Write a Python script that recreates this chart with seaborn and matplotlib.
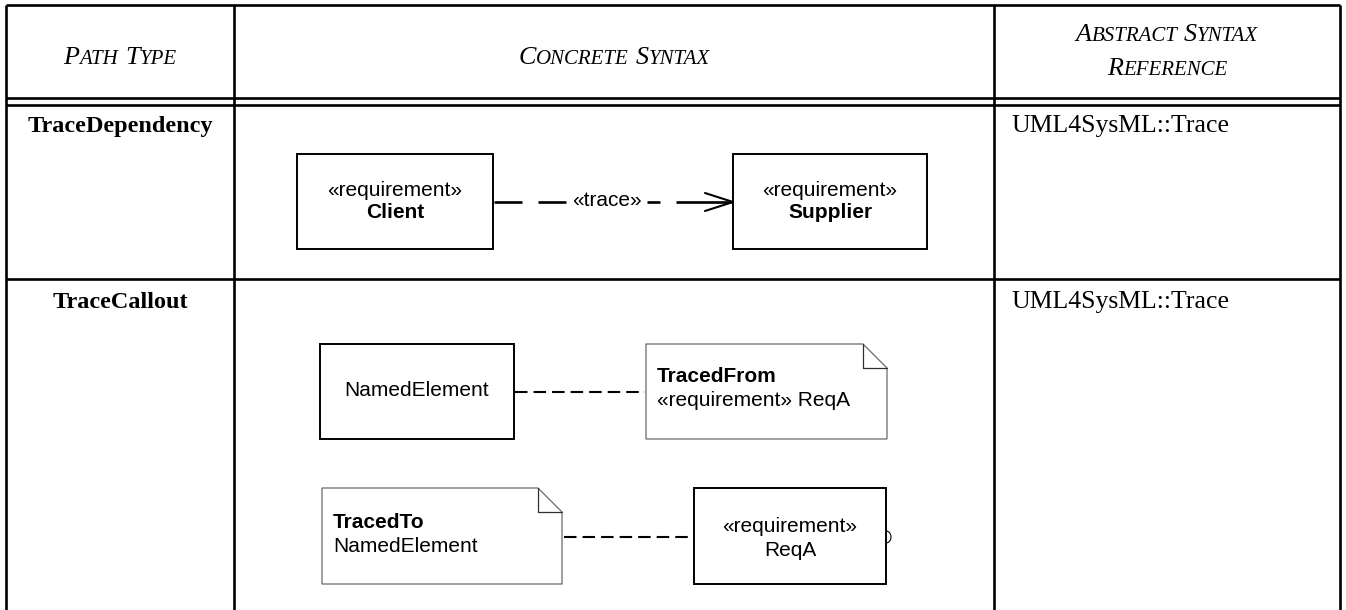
import numpy as np
import matplotlib.pyplot as plt
import matplotlib.patches as mpatches
import seaborn as sns

sns.set_theme(style="white")
plt.rcParams['font.family'] = ['Liberation Sans', 'DejaVu Sans']
plt.rcParams['text.color'] = 'black'

# table text
headers = ["Path Type", "Concrete Syntax", "Abstract Syntax\nReference"]
path_types = ["TraceDependency", "TraceCallout"]
references = ["UML4SysML::Trace", "UML4SysML::Trace"]

# diagram text
stereo = "«requirement»"
dep_client = "Client"
dep_supplier = "Supplier"
dep_label = "«trace»"
element_name = "NamedElement"
req_name = "ReqA"
traced_from = ["TracedFrom", "«requirement» ReqA"]
traced_to = ["TracedTo", "NamedElement"]

W, H = 1346, 610
fig = plt.figure(figsize=(W / 100, H / 100), dpi=100)
ax = fig.add_axes([0, 0, 1, 1])
ax.set_xlim(0, W)
ax.set_ylim(H, 0)
ax.axis('off')
renderer = fig.canvas.get_renderer()

SERIF = 'Liberation Serif'
SANS = 'Liberation Sans'

# table grid
xl, xc1, xc2, xr = 6, 234, 994, 1340
ytop = 5
tlw = 1.9
for x in [xl, xc1, xc2, xr]:
    ax.plot([x, x], [ytop, H + 5], color='black', lw=tlw, solid_capstyle='butt')
for y in [ytop, 98, 105, 279]:
    ax.plot([xl, xr], [y, y], color='black', lw=tlw, solid_capstyle='butt')


def small_caps(cx, y, text, size, ratio=0.8):
    # fake small caps: first letter big, rest smaller capitals
    pieces = []
    for i, word in enumerate(text.split()):
        if i:
            pieces.append(("gap", None))
        pieces.append((word[0].upper(), size))
        if len(word) > 1:
            pieces.append((word[1:].upper(), size * ratio))
    items = []
    for s, fs in pieces:
        if s == "gap":
            items.append((None, size * 0.35))
            continue
        t = ax.text(0, y, s, fontsize=fs, family=SERIF, style='italic',
                    va='baseline', ha='left', color='black')
        w = t.get_window_extent(renderer).width
        items.append((t, w))
    total = sum(w for _, w in items)
    x = cx - total / 2
    for t, w in items:
        if t is not None:
            t.set_x(x)
        x += w


col_centers = [(xl + xc1) / 2, (xc1 + xc2) / 2, (xc2 + xr) / 2]
hsize = 18.8
for cx, h in zip(col_centers, headers):
    lines = h.split("\n")
    if len(lines) == 1:
        small_caps(cx, 64, lines[0], hsize)
    else:
        small_caps(cx, 41, lines[0], hsize)
        small_caps(cx, 75, lines[1], hsize)

# row labels and references
row_y = [132, 308]
for y, name, ref in zip(row_y, path_types, references):
    ax.text(col_centers[0], y, name, family=SERIF, fontweight='bold',
            fontsize=17.5, ha='center', va='baseline')
    ax.text(1011, y, ref, family=SERIF, fontsize=18.5, ha='left',
            va='baseline')

fs = 15


def box(x0, y0, x1, y1, lw=1.4):
    ax.add_patch(mpatches.Rectangle((x0, y0), x1 - x0, y1 - y0, fill=False,
                                    edgecolor='black', lw=lw))


def note(x0, y0, x1, y1, fold=24):
    pts = [(x0, y0), (x1 - fold, y0), (x1, y0 + fold), (x1, y1), (x0, y1)]
    ax.add_patch(mpatches.Polygon(pts, closed=True, fill=False,
                                  edgecolor='#6a6a6a', lw=0.9))
    ax.plot([x1 - fold, x1 - fold, x1], [y0, y0 + fold, y0 + fold],
            color='#303030', lw=0.9)


# TraceDependency diagram
box(297, 154, 493, 249)
ax.text(395, 190, stereo, fontsize=fs, ha='center', va='center', family=SANS)
ax.text(395, 213, dep_client, fontsize=fs, fontweight='bold', ha='center',
        va='center', family=SANS)
box(733, 154, 927, 249)
ax.text(830, 190, stereo, fontsize=fs, ha='center', va='center', family=SANS)
ax.text(830, 213, dep_supplier, fontsize=fs, fontweight='bold', ha='center',
        va='center', family=SANS)
ly = 202
for a, b in [(494, 522), (538, 566), (647, 660), (676, 731)]:
    ax.plot([a, b], [ly, ly], color='black', lw=1.9, solid_capstyle='butt')
ax.text(607, ly - 1, dep_label, fontsize=fs, ha='center', va='center', family=SANS)
ax.plot([705, 733, 705], [ly - 9, ly, ly + 9], color='black', lw=1.5)

# TraceCallout diagrams
box(320, 344, 514, 439)
ax.text(417, 391, element_name, fontsize=fs, ha='center', va='center', family=SANS)
note(646, 344, 887, 439)
ax.plot([515, 645], [392, 392], color='black', lw=1.5, ls=(0, (6, 2.9)))
ax.text(657, 377, traced_from[0], fontsize=fs, fontweight='bold', ha='left',
        va='center', family=SANS)
ax.text(657, 401, traced_from[1], fontsize=fs, ha='left', va='center', family=SANS)

note(322, 488, 562, 584)
ax.text(333, 522, traced_to[0], fontsize=fs, fontweight='bold', ha='left',
        va='center', family=SANS)
ax.text(333, 546, traced_to[1], fontsize=fs, ha='left', va='center', family=SANS)
ax.plot([564, 693], [537, 537], color='black', lw=1.5, ls=(0, (6, 2.9)))
box(694, 488, 886, 584)
ax.text(790, 527, stereo, fontsize=fs, ha='center', va='center', family=SANS)
ax.text(790, 550, req_name, fontsize=fs, ha='center', va='center', family=SANS)
ax.add_patch(mpatches.Arc((886, 537), 10, 12, theta1=-90, theta2=90,
                          color='black', lw=0.8))

fig.savefig('out.png', dpi=100, facecolor='white')
